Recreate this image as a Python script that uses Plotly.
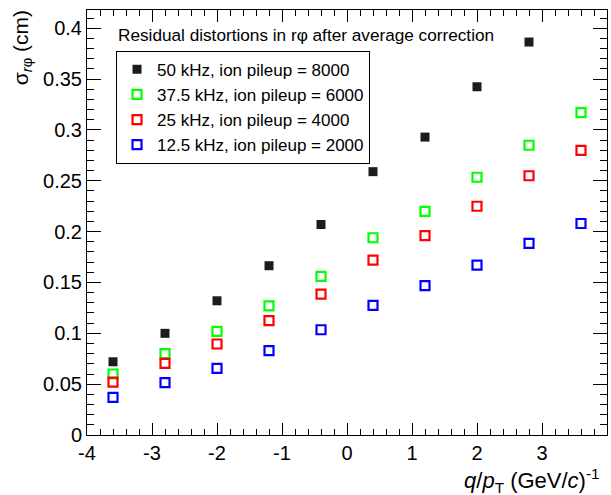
import plotly.graph_objects as go

# q/pT bin centres
q_over_pt = [-3.6, -2.8, -2.0, -1.2, -0.4, 0.4, 1.2, 2.0, 2.8, 3.6]

# residual r-phi distortion width (cm) per interaction rate
sigma_50 = [0.072, 0.100, 0.132, 0.1665, 0.207, 0.259, 0.293, 0.3425, 0.3865]
sigma_37p5 = [0.060, 0.080, 0.102, 0.127, 0.156, 0.194, 0.220, 0.2535, 0.285, 0.317]
sigma_25 = [0.052, 0.0705, 0.0895, 0.1125, 0.1385, 0.172, 0.196, 0.225, 0.255, 0.280]
sigma_12p5 = [0.037, 0.0515, 0.0655, 0.083, 0.1035, 0.1275, 0.147, 0.167, 0.1885, 0.208]

series_names = [
    "50 kHz, ion pileup = 8000",
    "37.5 kHz, ion pileup = 6000",
    "25 kHz, ion pileup = 4000",
    "12.5 kHz, ion pileup = 2000",
]

x_tick_vals = [-4, -3, -2, -1, 0, 1, 2, 3, 4]
x_tick_text = ["-4", "-3", "-2", "-1", "0", "1", "2", "3", "4"]
y_tick_vals = [0, 0.05, 0.1, 0.15, 0.2, 0.25, 0.3, 0.35, 0.4]
y_tick_text = ["0", "0.05", "0.1", "0.15", "0.2", "0.25", "0.3", "0.35", "0.4"]

FONT = "Liberation Sans, Arial, Helvetica, sans-serif"

fig = go.Figure()

styles = [
    (sigma_50, "square", "#1c1c1c", series_names[0]),
    (sigma_37p5, "square-open", "#00ff00", series_names[1]),
    (sigma_25, "square-open", "#ff0000", series_names[2]),
    (sigma_12p5, "square-open", "#0000ff", series_names[3]),
]
for ys, sym, col, name in styles:
    fig.add_trace(go.Scatter(
        x=q_over_pt[:len(ys)], y=ys, mode="markers", name=name,
        marker=dict(symbol=sym, size=9, color=col,
                    line=dict(width=2.2 if sym == "square-open" else 0, color=col)),
    ))

axis_common = dict(
    showgrid=False, zeroline=False, showline=True, linecolor="black", linewidth=1,
    mirror="allticks", ticks="inside", tickcolor="black", tickwidth=1,
    tickfont=dict(family=FONT, size=20, color="black"),
)

fig.update_xaxes(
    range=[-4, 4], tickvals=x_tick_vals, ticktext=x_tick_text, ticklen=12,
    minor=dict(ticks="inside", dtick=0.2, ticklen=6, tickcolor="black", tickwidth=1),
    **axis_common,
)
fig.update_yaxes(
    range=[0, 0.418], tickvals=y_tick_vals, ticktext=y_tick_text, ticklen=14,
    minor=dict(ticks="inside", dtick=0.01, ticklen=7, tickcolor="black", tickwidth=1),
    **axis_common,
)

fig.add_annotation(
    text="<i>q</i>/<i>p</i><sub>T</sub> (GeV/<i>c</i>)<sup>-1</sup>",
    xref="paper", yref="paper", x=0.99, y=-0.108, xanchor="right", yanchor="middle",
    showarrow=False, font=dict(family=FONT, size=22, color="black"),
)
fig.add_annotation(
    text="σ<sub><i>r</i>φ</sub> (cm)",
    xref="paper", yref="paper", x=-0.125, y=1.003, xanchor="center", yanchor="top",
    textangle=-90, showarrow=False, font=dict(family=FONT, size=21, color="black"),
)
fig.add_annotation(
    text="Residual distortions in rφ after average correction",
    xref="paper", yref="paper", x=0.056, y=0.942, xanchor="left", yanchor="middle",
    showarrow=False, font=dict(family=FONT, size=17.2, color="black"),
)

fig.update_layout(
    width=611, height=495,
    margin=dict(l=87, r=4, t=10, b=60),
    paper_bgcolor="white", plot_bgcolor="white",
    showlegend=True,
    legend=dict(
        x=0.0558, y=0.904, xanchor="left", yanchor="top",
        bgcolor="white", bordercolor="black", borderwidth=1,
        font=dict(family=FONT, size=17, color="black"),
        tracegroupgap=0,
    ),
)

fig.write_html("out.html")
